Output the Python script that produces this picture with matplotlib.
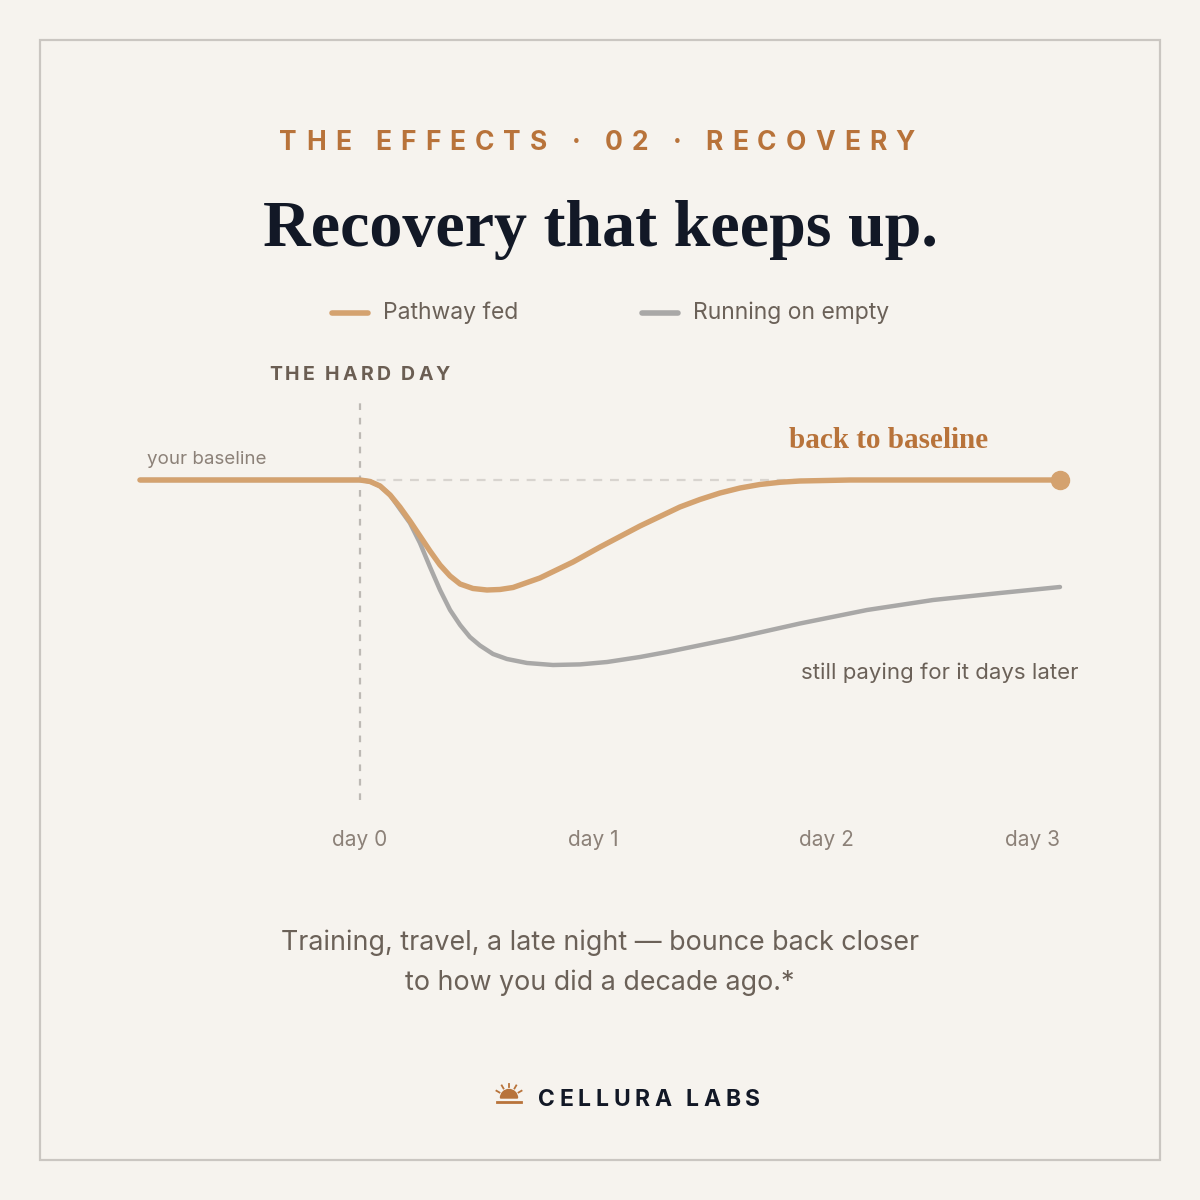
import numpy as np
import matplotlib.pyplot as plt
from matplotlib import patches
from matplotlib.font_manager import FontProperties

# colours
BG = '#f6f3ee'
BORDER = '#cac6c1'
ORANGE = '#d4a26f'
ACCENT = '#b8733a'
GREY_LINE = '#a9a8a7'
INK = '#121826'
TEXT = '#6b6158'
MUTED = '#8c8178'

SANS = 'Inter'
SERIF = 'Liberation Serif'

# data (days after the hard day, recovery score, baseline = 100)
days_fed = [-0.943, 0.0, 0.043, 0.086, 0.129, 0.171, 0.214, 0.257, 0.300, 0.343,
            0.386, 0.429, 0.484, 0.544, 0.600, 0.656, 0.771, 0.913, 1.029, 1.200,
            1.371, 1.457, 1.543, 1.629, 1.714, 1.800, 1.886, 2.100, 2.456, 3.0]
score_fed = [100, 100, 99.63, 98.5, 96.25, 93.25, 89.75, 86.0, 82.25, 78.75,
             76.0, 74.0, 72.88, 72.5, 72.63, 73.13, 75.5, 79.5, 83.25, 88.5,
             93.25, 95.13, 96.75, 98.0, 98.88, 99.43, 99.75, 100, 100, 100]

days_empty = [-0.943, 0.0, 0.043, 0.086, 0.129, 0.171, 0.214, 0.257, 0.300, 0.343,
              0.386, 0.429, 0.471, 0.514, 0.570, 0.630, 0.716, 0.827, 0.943, 1.059,
              1.200, 1.316, 1.599, 1.886, 2.173, 2.456, 2.743, 3.0]
score_empty = [100, 100, 99.63, 98.5, 96.25, 92.75, 89.25, 84.25, 78.25, 72.5,
               67.5, 63.75, 60.75, 58.63, 56.5, 55.25, 54.25, 53.75, 53.9, 54.5,
               55.75, 57.0, 60.38, 64.13, 67.5, 70.0, 71.75, 73.25]

tick_days = [0, 1, 2, 3]
tick_labels = ['day 0', 'day 1', 'day 2', 'day 3']
series_names = ['Pathway fed', 'Running on empty']

fig = plt.figure(figsize=(12, 12), dpi=100, facecolor=BG)

# page layer in pixel coordinates
bg = fig.add_axes([0, 0, 1, 1])
bg.set_xlim(0, 1200)
bg.set_ylim(1200, 0)
bg.axis('off')
bg.add_patch(patches.Rectangle((40, 40), 1120, 1120, fill=False, edgecolor=BORDER, lw=1.6))

renderer = fig.canvas.get_renderer()


def tracked(x, y, s, width, size, color, weight='bold', family=SANS, ha='center'):
    fp = FontProperties(family=family, size=size, weight=weight)
    tw = lambda t: renderer.get_text_width_height_descent(t, fp, ismath=False)[0]
    sp = tw('x x') - tw('xx')
    ws = [sp if c == ' ' else tw(c) for c in s]
    gap = (width - sum(ws)) / (len(s) - 1)
    x0 = x - width / 2 if ha == 'center' else x
    for c, w in zip(s, ws):
        if c != ' ':
            bg.text(x0, y, c, fontproperties=fp, color=color, ha='left', va='baseline')
        x0 += w + gap


# header
tracked(597, 150, 'THE EFFECTS · 02 · RECOVERY', 635, 19, ACCENT)
bg.text(600, 246, 'Recovery that keeps up.', family=SERIF, weight='bold', size=47.5,
        color=INK, ha='center', va='baseline')

# legend
bg.plot([332, 368], [313, 313], color=ORANGE, lw=4, solid_capstyle='round')
bg.text(383, 313, series_names[0], family=SANS, size=16.5, color=TEXT, va='center')
bg.plot([642, 678], [313, 313], color=GREY_LINE, lw=4, solid_capstyle='round')
bg.text(693, 313, series_names[1], family=SANS, size=16.5, color=TEXT, va='center')

tracked(269, 380, 'THE HARD DAY', 181, 14, '#6b5e53', ha='left')

# chart
ax = fig.add_axes([100 / 1200, 380 / 1200, 1000 / 1200, 440 / 1200])
ax.set_xlim((100 - 360) / 233.33, (1100 - 360) / 233.33)
ax.set_ylim(15, 125)
ax.patch.set_alpha(0)
for s in ax.spines.values():
    s.set_visible(False)
ax.set_yticks([])

ax.plot([0, 0], [20, 120], color='#bdb9b4', lw=1.6, ls=(0, (3, 3.5)))
ax.plot([0, 3], [100, 100], color='#d8d4cf', lw=1.6, ls=(0, (4, 3.5)))

ax.plot(days_empty, score_empty, color=GREY_LINE, lw=3.2, solid_capstyle='round',
        solid_joinstyle='round')
ax.plot(days_fed, score_fed, color=ORANGE, lw=3.9, solid_capstyle='round',
        solid_joinstyle='round')
ax.plot(days_fed[-1], score_fed[-1], 'o', ms=13, color=ORANGE)

ax.set_xticks(tick_days)
ax.set_xticklabels(tick_labels, family=SANS, size=15, color=MUTED)
ax.tick_params(axis='x', length=0, pad=7.5)
ax.get_xticklabels()[-1].set_ha('right')

ax.text(-0.915, 105.25, 'your baseline', family=SANS, size=13.5, color=MUTED,
        va='center')
ax.text(1.84, 109.75, 'back to baseline', family=SERIF, weight='bold', size=21,
        color=ACCENT, va='center')
ax.text(3.08, 51.8, 'still paying for it days later', family=SANS, size=16,
        color=TEXT, ha='right', va='center')

# footnote
bg.text(600, 943, 'Training, travel, a late night — bounce back closer', family=SANS,
        size=19.3, color=TEXT, ha='center', va='center')
bg.text(600, 983, 'to how you did a decade ago.*', family=SANS,
        size=19.3, color=TEXT, ha='center', va='center')

# logo
bg.add_patch(patches.Wedge((509, 1098), 8.5, 180, 360, color=ACCENT))
for a in [30, 60, 90, 120, 150]:
    r = np.radians(a)
    bg.plot([509 + 11 * np.cos(r), 509 + 14.5 * np.cos(r)],
            [1098 - 11 * np.sin(r), 1098 - 14.5 * np.sin(r)], color=ACCENT, lw=1.3)
bg.plot([497, 521], [1101.5, 1101.5], color=ACCENT, lw=2)
tracked(538, 1106, 'CELLURA LABS', 222, 16.5, INK, ha='left')

fig.savefig('out.png', dpi=100, facecolor=BG)
